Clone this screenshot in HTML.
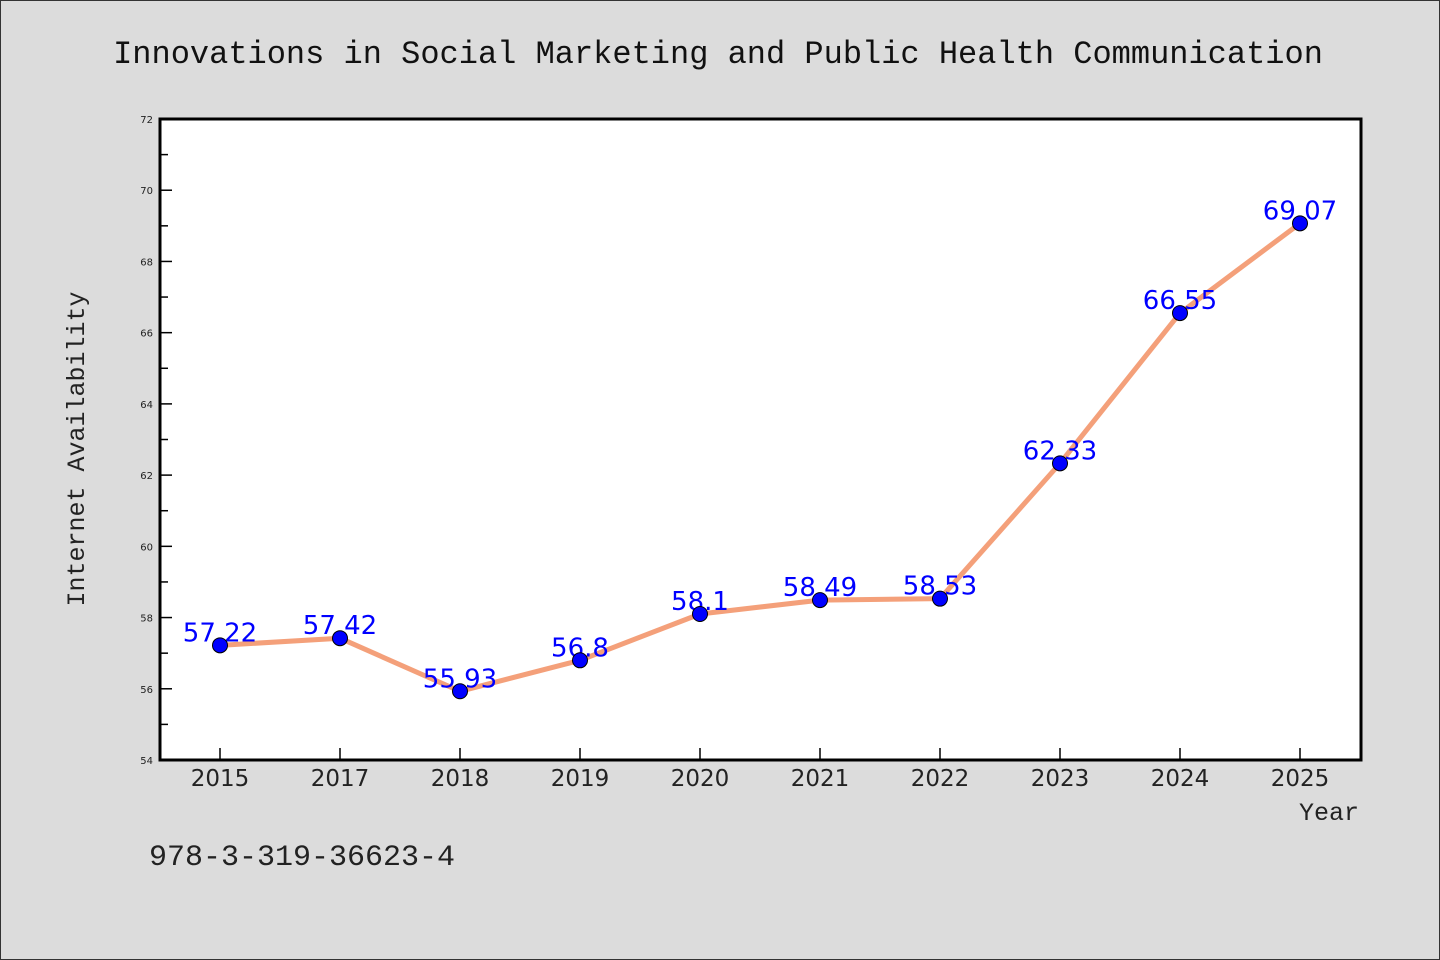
<!DOCTYPE html>
<html><head><meta charset="utf-8"><style>
body{margin:0;background:#dcdcdc}
svg{display:block}
</style></head><body>
<svg id="chart" width="1440" height="960" xmlns="http://www.w3.org/2000/svg">
<rect x="0.5" y="0.5" width="1439" height="959" fill="#dcdcdc" stroke="#333" stroke-width="1"/>
<text x="718" y="63" text-anchor="middle" font-family="'Liberation Mono', monospace" font-size="32" fill="#111">Innovations in Social Marketing and Public Health Communication</text>
<rect x="160" y="119" width="1201" height="641" fill="#fff"/>
<g id="grid"></g>
<g id="series"></g>
<rect x="160" y="119" width="1201" height="641" fill="none" stroke="#000" stroke-width="3"/>
<text transform="translate(84,449) rotate(-90)" text-anchor="middle" font-family="'Liberation Mono', monospace" font-size="25" fill="#222">Internet Availability</text>
<text x="1359" y="820" text-anchor="end" font-family="'Liberation Mono', monospace" font-size="25" fill="#222">Year</text>
<text x="149" y="865" font-family="'Liberation Mono', monospace" font-size="30" fill="#222">978-3-319-36623-4</text>
</svg>
<script>
const categories=["2015","2017","2018","2019","2020","2021","2022","2023","2024","2025"];
const values=[57.22,57.42,55.93,56.8,58.1,58.49,58.53,62.33,66.55,69.07];
const valueLabels=["57.22","57.42","55.93","56.8","58.1","58.49","58.53","62.33","66.55","69.07"];
const yTicks=[54,56,58,60,62,64,66,68,70,72];
const yMin=54,yMax=72;
const ns="http://www.w3.org/2000/svg";
const svg=document.getElementById('chart');
const g=document.getElementById('grid');
const s=document.getElementById('series');
const L=160,R=1361,T=119,B=760;
function xs(i){return 220+i*(1300-220)/(categories.length-1);}
function ys(v){return B-(v-yMin)/(yMax-yMin)*(B-T);}
function mk(tag,attrs,parent){const e=document.createElementNS(ns,tag);for(const k in attrs)e.setAttribute(k,attrs[k]);parent.appendChild(e);return e;}
yTicks.forEach((t,i)=>{
  const y=ys(t);
  const tk=mk('line',{x1:L,x2:L+12,y1:y,y2:y,stroke:'#000','stroke-width':1.5},g);
  
  
  const lb=mk('text',{x:L-7,y:y+4,'text-anchor':'end','font-family':"'DejaVu Sans',sans-serif",'font-size':10,fill:'#222'},g);
  
  
  lb.textContent=t;
  if(i<yTicks.length-1){
    const ym=ys(t+1);
    const mt=mk('line',{x1:L,x2:L+8,y1:ym,y2:ym,stroke:'#000','stroke-width':1.5},g);
    
    
  }
});
categories.forEach((c,i)=>{
  const x=xs(i);
  const tk=mk('line',{x1:x,x2:x,y1:B,y2:B-12,stroke:'#000','stroke-width':1.5},g);
  
  
  const lb=mk('text',{x:x,y:B+26,'text-anchor':'middle','font-family':"'DejaVu Sans',sans-serif",'font-size':23,fill:'#222'},g);
  
  
  lb.textContent=c;
});
const pts=values.map((v,i)=>xs(i)+','+ys(v)).join(' ');
const line=mk('polyline',{points:pts,fill:'none',stroke:'#f4a07a','stroke-width':5,'stroke-linejoin':'round'},s);


values.forEach((v,i)=>{
  const t=mk('text',{x:xs(i),y:ys(v)-4,'text-anchor':'middle','font-family':"'DejaVu Sans',sans-serif",'font-size':26,fill:'#0000ff'},s);
  
  
  t.textContent=valueLabels[i];
});
values.forEach((v,i)=>{
  const c=mk('circle',{cx:xs(i),cy:ys(v),r:7.5,fill:'#0000ff',stroke:'#000','stroke-width':1},s);
  
  
});
</script>
</body></html>
